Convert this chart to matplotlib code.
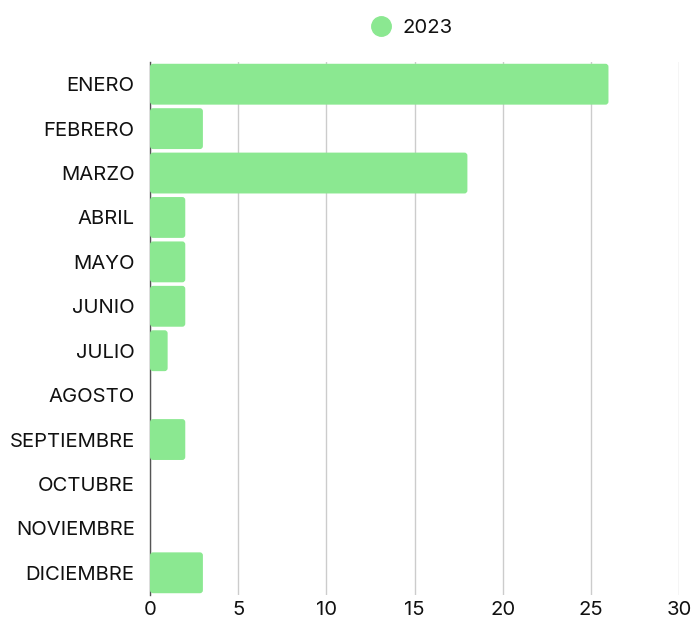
import matplotlib
matplotlib.use("Agg")
import matplotlib.pyplot as plt
from matplotlib.patches import FancyBboxPatch
from matplotlib.lines import Line2D

plt.rcParams['font.family'] = ['Inter', 'DejaVu Sans']

months = ["ENERO", "FEBRERO", "MARZO", "ABRIL", "MAYO", "JUNIO", "JULIO",
          "AGOSTO", "SEPTIEMBRE", "OCTUBRE", "NOVIEMBRE", "DICIEMBRE"]
values_2023 = [26, 3, 18, 2, 2, 2, 1, 0, 2, 0, 0, 3]
series_name = "2023"
xticks = [0, 5, 10, 15, 20, 25, 30]

color = "#8BE891"
text_color = "#111111"
fs = 14.6

fig = plt.figure(figsize=(6.94, 6.21), dpi=100)
ax = fig.add_axes([150/694, 1 - 595/621, (679-150)/694, (595-62)/621])

ypos = list(range(len(months)))
bars = ax.barh(ypos, values_2023, height=0.92, color=color, zorder=3)

# replace rectangles with slightly rounded ones
xpx = (679-150)/30.0
ypx = (595-62)/12.0
r = 3.0 / xpx
aspect = (1/ypx) / (1/xpx)
for rect, v in zip(bars.patches, values_2023):
    rect.set_visible(False)
    if v <= 0:
        continue
    x0, y0 = rect.get_x(), rect.get_y()
    w, h = rect.get_width(), rect.get_height()
    p = FancyBboxPatch((x0, y0), w, h,
                       boxstyle=f"round,pad=0,rounding_size={r}",
                       mutation_aspect=aspect,
                       facecolor=color, edgecolor="none", zorder=3)
    ax.add_patch(p)

ax.set_xlim(0, 30)
ax.set_ylim(len(months) - 0.5, -0.5)
ax.set_yticks(ypos)
ax.set_yticklabels(months)
ax.set_xticks(xticks)
ax.set_xticklabels([str(t) for t in xticks])

ax.tick_params(axis='y', length=0, pad=11, labelsize=fs, labelcolor=text_color)
ax.tick_params(axis='x', length=0, pad=4.5, labelsize=fs, labelcolor=text_color)

ax.grid(axis='x', color='#cccccc', linewidth=1, zorder=0)
ax.grid(axis='y', visible=False)
for s in ['top', 'right', 'bottom']:
    ax.spines[s].set_visible(False)
ax.spines['left'].set_color('#555555')
ax.spines['left'].set_linewidth(1)
ax.spines['left'].set_zorder(2)

handle = Line2D([], [], marker='o', linestyle='none', markersize=14,
                markerfacecolor=color, markeredgecolor=color)
fig.legend([handle], [series_name], loc='center', bbox_to_anchor=(407/694, 1 - 28/621),
           frameon=False, fontsize=fs, handletextpad=0.05, labelcolor=text_color)

fig.savefig("out.png", dpi=100)
